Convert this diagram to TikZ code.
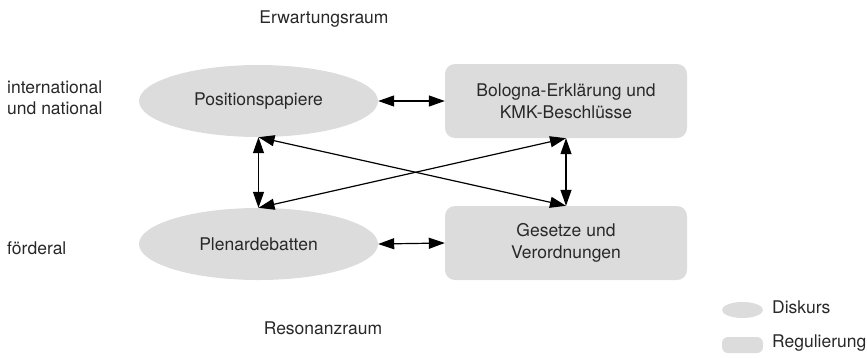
\documentclass[tikz,border=0pt]{standalone}
\usepackage{fontspec}
\setmainfont{TeX Gyre Heros}
\usepackage{tikz}
\usetikzlibrary{arrows.meta,positioning}
\usetikzlibrary{shapes.geometric}
\definecolor{feld}{RGB}{220,220,220}
\definecolor{schrift}{RGB}{40,40,40}
\newcommand\Txt{\fontsize{17.5}{21.5}\selectfont}

\begin{document}
\begin{tikzpicture}[x=1pt,y=-1pt,>={Triangle[length=16pt,width=11pt]},text=schrift]%
\useasboundingbox (0,0) rectangle (867,357);
\begin{scope}[font=\Txt]%
\tikzstyle{diskurs}=[ellipse,fill=feld,minimum width=239pt,minimum height=72pt,inner sep=0pt] %%
\tikzstyle{regel}=[rectangle,rounded corners=10pt,fill=feld,minimum width=242pt,minimum height=74pt,inner sep=0pt,align=center] %%
\node[diskurs] (pos) at (258.5,101)  {Positionspapiere}; %%
\node[regel] (bol) at (566,101)  {Bologna-Erklärung und\\KMK-Beschlüsse}; %%
\node[diskurs] (plen) at (258.5,244)  {Plenardebatten}; %%
\node[regel] (ges) at (566,243)  {Gesetze und\\Verordnungen}; %%
\end{scope}
\begin{scope}[font=\Txt,inner sep=0pt]%
\node[anchor=base] (erw) at (324,23) {Erwartungsraum};%
\node[anchor=base] (res) at (323,334) {Resonanzraum};%
\node[anchor=west,align=left] (int) at (7,97.5) {international\\und national};%
\node[anchor=base west] (foed) at (7,254) {förderal};%
\end{scope}
%% Legende
\begin{scope}[font=\Txt,inner sep=0pt]%
\node[ellipse,fill=feld,minimum width=41pt,minimum height=16pt] (ld) at (742.5,310) {};%
\node[rectangle,rounded corners=6pt,fill=feld,minimum width=41pt,minimum height=16pt] (lr) at (742.5,345) {};%
\node[anchor=base west] (ldt) at (772,313) {Diskurs};%
\node[anchor=base west] (lrt) at (772,347) {Regulierung};%
\end{scope}
\begin{scope}[line width=1.2pt]%
\draw[<->] (pos.east)--(bol.west); %%
\draw[<->] (plen.east)--(ges.west); %%
\draw[<->] (pos.south)--(plen.north); %%
\draw[<->] (bol.south)--(ges.north); %%
\draw[<->] (pos.south)--(ges.north); %%
\draw[<->] (bol.south)--(plen.north); %%
\end{scope}
\end{tikzpicture}
\end{document}
